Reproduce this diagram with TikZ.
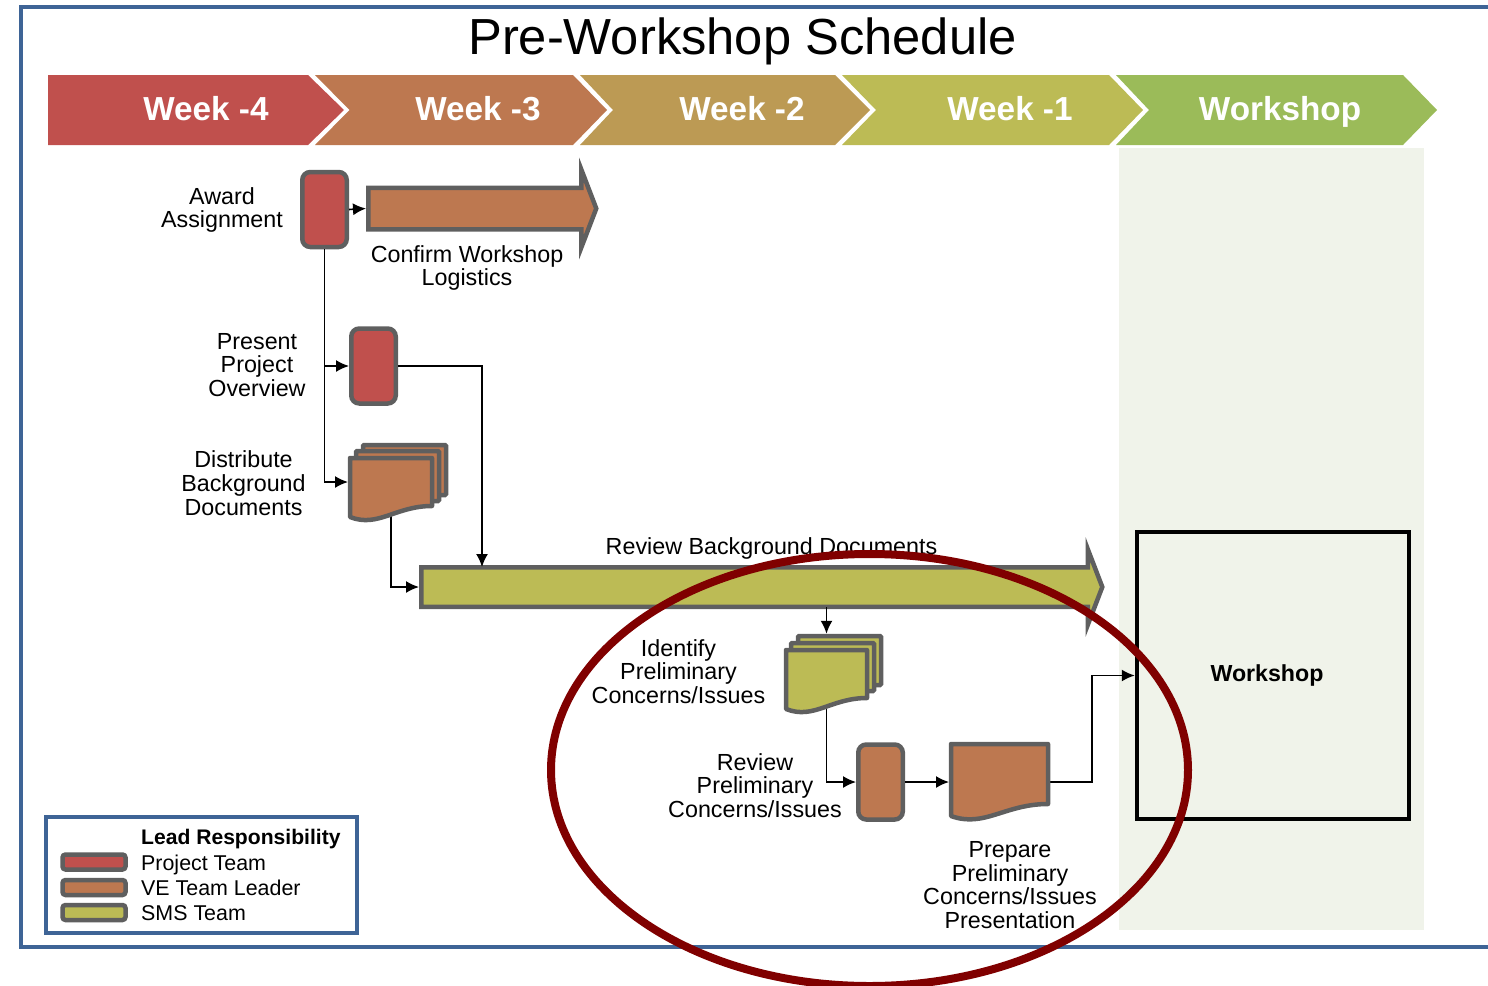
\documentclass[tikz,border=0pt]{standalone}
\usepackage{fontspec}
\setmainfont{Liberation Sans}
\usetikzlibrary{arrows.meta,calc,shapes.arrows}

\definecolor{framblue}{HTML}{3E6496}
\definecolor{edgegray}{HTML}{5F5F5F}
\definecolor{teamred}{HTML}{C0504D}
\definecolor{teamorange}{HTML}{BD7850}
\definecolor{teamtan}{HTML}{BC9A54}
\definecolor{teamolive}{HTML}{BCBB55}
\definecolor{teamgreen}{HTML}{9BBB59}
\definecolor{paleband}{HTML}{F0F3EA}
\definecolor{markred}{HTML}{800000}

\tikzset{
  weeklabel/.style={anchor=base,text=white,inner sep=0pt,font=\fontsize{33.3}{36}\selectfont\bfseries},
  tasklabel/.style={align=center,inner sep=0pt,font=\fontsize{23.3}{23.8}\selectfont},
  legendlabel/.style={anchor=base west,inner sep=0pt,font=\fontsize{21.4}{24}\selectfont},
  taskbox/.style={draw=edgegray,line width=4.5pt,rounded corners=8pt,inner sep=0pt,minimum width=44.5pt,minimum height=75pt},
  swatch/.style={draw=edgegray,line width=4.5pt,rounded corners=3pt,inner sep=0pt,minimum width=63pt,minimum height=15pt},
  sheetback/.style={draw=edgegray,line width=4.5pt,rounded corners=1pt,inner sep=0pt,minimum width=83pt},
  sheetfront/.style={inner sep=0pt,outer sep=0pt},
  bararrow/.style={single arrow,draw=edgegray,line width=4.5pt,inner xsep=0pt,anchor=west,
    single arrow head extend=18pt,single arrow tip angle=138},
  link/.style={black,line width=1.6pt,-{Latex[length=13pt,width=12pt]}}
}

\newcommand{\docsheet}[3]{
\draw[draw=edgegray,line width=4.5pt,line join=round,fill=#2]
  ($(#1.north west)+(2,2)$) -- ($(#1.north east)+(-2,2)$) -- ($(#1.south east)+(-2,-2)$)
  .. controls ($(#1.south east)!.45!(#1.south west)+(0,-2)$) and ($(#1.south east)!.65!(#1.south west)+(0,{2*#3-2})$)
  .. ($(#1.south west)+(2,{#3-2})$) -- cycle;
}

\begin{document}
\begin{tikzpicture}[x=1pt,y=-1pt]
\useasboundingbox (0,0) rectangle (1488,985);
\clip (0,0) rectangle (1488,985);

\fill[paleband] (1119,148) rectangle (1424,930);
\draw[framblue,line width=4pt] (1495,7) -- (21,7) -- (21,946.5) -- (1495,946.5);

\node[inner sep=0pt,font=\fontsize{50.7}{54}\selectfont] (title) at (742.5,41) {Pre-Workshop Schedule};

\fill[teamred] (48,75) -- (308,75) -- (344,110) -- (308,145) -- (48,145) -- cycle;
\fill[teamorange] (315,75) -- (573,75) -- (607,110) -- (573,145) -- (315,145) -- (349.5,110) -- cycle;
\fill[teamtan] (580,75) -- (835,75) -- (870,110) -- (835,145) -- (580,145) -- (613,110) -- cycle;
\fill[teamolive] (842,75) -- (1109,75) -- (1143,110) -- (1109,145) -- (842,145) -- (876,110) -- cycle;
\fill[teamgreen] (1116,75) -- (1403,75) -- (1437,110) -- (1403,145) -- (1116,145) -- (1149,110) -- cycle;

\begin{scope}[every node/.style={weeklabel}]
\node (weekfour) at (206,120) {Week -4};
\node (weekthree) at (478,120) {Week -3};
\node (weektwo) at (742,120) {Week -2};
\node (weekone) at (1010,120) {Week -1};
\node (weekzero) at (1280,120) {Workshop};
\end{scope}

\node[taskbox,fill=teamred] (award) at (324.5,209.5) {};
\node[taskbox,fill=teamred] (present) at (373.5,366) {};
\node[taskbox,fill=teamorange] (review) at (880.5,782) {};

\node[bararrow,fill=teamorange,inner ysep=18.5pt,minimum height=228pt] (confirm) at (366,208.5) {};
\node[bararrow,fill=teamolive,inner ysep=17.5pt,minimum height=681pt] (bar) at (419,587) {};

\node[sheetback,fill=teamorange,minimum height=50pt] (distributeback) at (404.5,470) {};
\node[sheetback,fill=teamorange,minimum height=50pt] (distributemid) at (397.5,476) {};
\node[sheetfront,minimum width=86pt,minimum height=52pt] (distribute) at (391,482) {};

\node[sheetback,fill=teamolive,minimum height=49pt] (identifyback) at (839.5,660.5) {};
\node[sheetback,fill=teamolive,minimum height=48pt] (identifymid) at (832.5,667) {};
\node[sheetfront,minimum width=85pt,minimum height=52pt] (identify) at (826.5,674) {};

\node[sheetfront,minimum width=101pt,minimum height=64pt] (prepare) at (999.5,774) {};

\node[draw=black,line width=4.5pt,fill=paleband,inner sep=0pt,minimum width=272pt,minimum height=287pt,
  font=\fontsize{23.2}{24}\selectfont\bfseries] (workshop) at (1273,675.5) {Workshop\kern12pt};

\coordinate (barin) at (482,567);
\coordinate (barout) at (826.5,607);

\draw[link] (award.east) -- (confirm.west);
\draw[link] (award.south) |- (present.west);
\draw[link] (award.south) |- (distribute.west);
\draw[link] (present.east) -| (barin);
\draw[link] (distribute.south) |- (bar.west);
\draw[link] (barout) -- (barout |- identifyback.north);
\draw[link] (identify.south) |- (review.west);
\draw[link] (review.east) -- (review.east -| prepare.west);
\draw[link] (review.east -| prepare.east) -- ++(42,0) |- (workshop.west);

\docsheet{distribute}{teamorange}{11}
\docsheet{identify}{teamolive}{11}
\docsheet{prepare}{teamorange}{12}

\begin{scope}[every node/.style={tasklabel}]
\node (awardtext) at (222,210) {Award\\Assignment};
\node (confirmtext) at (467,268) {Confirm Workshop\\Logistics};
\node (presenttext) at (257,365) {Present\\Project\\Overview};
\node (distributetext) at (243.5,483) {Distribute\\Background\\Documents};
\node (bartext) at (771.5,548) {Review Background Documents};
\node (identifytext) at (678.5,671.5) {Identify\\Preliminary\\Concerns/Issues};
\node (reviewtext) at (755,785.5) {Review\\Preliminary\\Concerns/Issues};
\node (preparetext) at (1010,885) {Prepare\\Preliminary\\Concerns/Issues\\Presentation};
\end{scope}

\node[draw=framblue,fill=white,line width=4pt,inner sep=0pt,minimum width=311pt,minimum height=116pt] (legend) at (201,874.5) {};
\node[swatch,fill=teamred] (swatchred) at (94,862) {};
\node[swatch,fill=teamorange] (swatchorange) at (94,887.5) {};
\node[swatch,fill=teamolive] (swatcholive) at (94,912.5) {};
\begin{scope}[every node/.style={legendlabel}]
\node[font=\fontsize{21.1}{24}\selectfont\bfseries] (legendhead) at (141,844) {Lead Responsibility};
\node (legendred) at (141,870) {Project Team};
\node (legendorange) at (141,895) {VE Team Leader};
\node (legendolive) at (141,920) {SMS Team};
\end{scope}

\draw[markred,line width=8pt] (869.5,770) ellipse [x radius=318.5,y radius=216];

\end{tikzpicture}
\end{document}
